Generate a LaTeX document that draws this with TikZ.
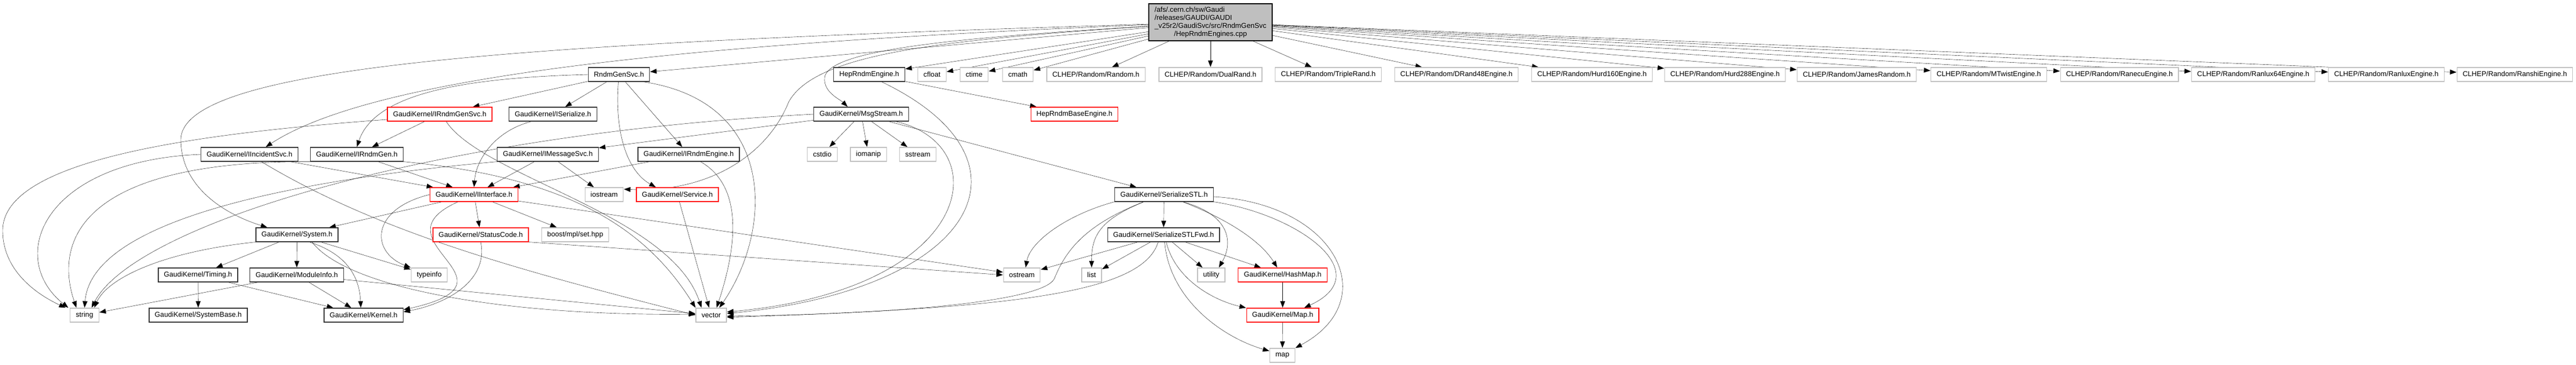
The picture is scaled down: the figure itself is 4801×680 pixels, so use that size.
\documentclass[tikz,border=0pt]{standalone}
\usepackage{fontspec}
\setsansfont{Liberation Sans}
\usetikzlibrary{arrows.meta,backgrounds}
\definecolor{edgeblue}{RGB}{25,25,112}
\begin{document}
\begin{tikzpicture}[->,>={Triangle[length=12pt,width=9pt]},shorten >=0.5pt,x=1pt,y=-1pt,
        hdr node/.style={rectangle,draw=black!80,line width=1.2pt,fill=white,inner xsep=10.5pt,inner ysep=0pt,
          minimum height=26pt,font=\sffamily\fontsize{13.2}{15}\selectfont},
        red node/.style={hdr node,draw=red},
        sys node/.style={hdr node,draw=black!25},
        src node/.style={hdr node,draw=black,fill=black!25,minimum width=230pt,minimum height=69pt,inner xsep=0pt}]
  \useasboundingbox (0,0) rectangle (4801,680);

  \node[src node] (hepcpp) at (2256,41.5) {\begin{tabular}{@{}l@{}}/afs/.cern.ch/sw/Gaudi\\/releases/GAUDI/GAUDI\\\_v25r2/GaudiSvc/src/RndmGenSvc\\\multicolumn{1}{@{}c@{}}{/HepRndmEngines.cpp}\end{tabular}};

  \node[hdr node] (rndmgensvc) at (1153.5,139) {RndmGenSvc.h};
  \node[hdr node] (hepengine) at (1620,139) {HepRndmEngine.h};
  \node[sys node] (cfloat) at (1737,139) {cfloat};
  \node[sys node] (ctime) at (1815.5,139) {ctime};
  \node[sys node] (cmath) at (1897,139) {cmath};
  \node[sys node] (random) at (2042.5,139) {CLHEP/Random/Random.h};
  \node[sys node] (dualrand) at (2256,139) {CLHEP/Random/DualRand.h};
  \node[sys node] (triplerand) at (2475.5,139) {CLHEP/Random/TripleRand.h};
  \node[sys node] (drand48) at (2714.5,139) {CLHEP/Random/DRand48Engine.h};
  \node[sys node] (hurd160) at (2967,139) {CLHEP/Random/Hurd160Engine.h};
  \node[sys node] (hurd288) at (3215,139) {CLHEP/Random/Hurd288Engine.h};
  \node[sys node] (james) at (3460.5,139) {CLHEP/Random/JamesRandom.h};
  \node[sys node] (mtwist) at (3706.5,139) {CLHEP/Random/MTwistEngine.h};
  \node[sys node] (ranecu) at (3950,139) {CLHEP/Random/RanecuEngine.h};
  \node[sys node] (ranlux64) at (4199.5,139) {CLHEP/Random/Ranlux64Engine.h};
  \node[sys node] (ranlux) at (4447.5,139) {CLHEP/Random/RanluxEngine.h};
  \node[sys node] (ranshi) at (4687,139) {CLHEP/Random/RanshiEngine.h};

  \node[red node] (irndmgensvc) at (819.5,213) {GaudiKernel/IRndmGenSvc.h};
  \node[hdr node] (iserialize) at (1030.5,213) {GaudiKernel/ISerialize.h};
  \node[hdr node] (msgstream) at (1605,213) {GaudiKernel/MsgStream.h};
  \node[red node] (hepbase) at (2002.5,213) {HepRndmBaseEngine.h};

  \node[hdr node] (iincident) at (465,288) {GaudiKernel/IIncidentSvc.h};
  \node[hdr node] (irndmgen) at (665,288) {GaudiKernel/IRndmGen.h};
  \node[hdr node] (imessagesvc) at (1021,288) {GaudiKernel/IMessageSvc.h};
  \node[hdr node] (irndmengine) at (1283.5,288) {GaudiKernel/IRndmEngine.h};
  \node[sys node] (cstdio) at (1532.5,288) {cstdio};
  \node[sys node] (iomanip) at (1618.5,288) {iomanip};
  \node[sys node] (sstream) at (1710.5,288) {sstream};

  \node[red node] (iinterface) at (883.5,363) {GaudiKernel/IInterface.h};
  \node[sys node] (iostream) at (1126,363) {iostream};
  \node[red node] (service) at (1262.5,363) {GaudiKernel/Service.h};
  \node[hdr node] (serializestl) at (2169.5,363) {GaudiKernel/SerializeSTL.h};

  \node[hdr node] (system) at (553.5,438) {GaudiKernel/System.h};
  \node[red node] (statuscode) at (896,438) {GaudiKernel/StatusCode.h};
  \node[sys node] (boostset) at (1072,438) {boost/mpl/set.hpp};
  \node[hdr node] (serializestlfwd) at (2168.5,438) {GaudiKernel/SerializeSTLFwd.h};

  \node[hdr node] (timing) at (369,513) {GaudiKernel/Timing.h};
  \node[hdr node] (moduleinfo) at (553,513) {GaudiKernel/ModuleInfo.h};
  \node[sys node] (typeinfo) at (800,513) {typeinfo};
  \node[sys node] (ostream) at (1904.5,513) {ostream};
  \node[sys node] (list) at (2034.5,513) {list};
  \node[sys node] (utility) at (2257.5,513) {utility};
  \node[red node] (hashmap) at (2390.5,513) {GaudiKernel/HashMap.h};

  \node[sys node] (string) at (157.5,588) {string};
  \node[hdr node] (systembase) at (369.5,588) {GaudiKernel/SystemBase.h};
  \node[hdr node] (kernel) at (677.5,588) {GaudiKernel/Kernel.h};
  \node[sys node] (vector) at (1325.5,588) {vector};
  \node[red node] (maph) at (2390.5,588) {GaudiKernel/Map.h};

  \node[sys node] (map) at (2390,663) {map};

  \begin{scope}[on background layer,color=edgeblue,line width=1.2pt]
    \path (hepcpp) edge (rndmgensvc) edge (hepengine) edge (cfloat) edge (ctime) edge (cmath)
                   edge (random) edge (dualrand) edge (triplerand) edge (drand48) edge (hurd160)
                   edge (hurd288) edge (james) edge (mtwist) edge (ranecu) edge (ranlux64)
                   edge (ranlux) edge (ranshi)
          (rndmgensvc) edge (irndmgensvc) edge (iserialize) edge (irndmengine)
          (hepengine) edge (hepbase)
          (msgstream) edge (imessagesvc) edge (serializestl) edge (cstdio) edge (iomanip) edge (sstream)
          (irndmgensvc) edge (irndmgen)
          (iincident) edge (iinterface)
          (irndmgen) edge (iinterface)
          (imessagesvc) edge (iinterface) edge (iostream)
          (irndmengine) edge (iinterface)
          (service) edge (vector)
          (iinterface) edge (system) edge (statuscode) edge (boostset) edge (ostream)
          (statuscode.south east) edge (ostream.west)
          (system) edge (timing) edge (moduleinfo) edge (typeinfo)
          (timing) edge (systembase) edge (kernel)
          (moduleinfo) edge (string) edge (kernel) edge (vector)
          (serializestl) edge (serializestlfwd)
          (serializestlfwd) edge (ostream) edge (list) edge (utility) edge (hashmap)
          (hashmap) edge (maph)
          (maph) edge (map);

    \draw (hepcpp) .. controls (1800,70) and (1560,90) .. (1538,140) .. controls (1530,170) and (1565,185) .. ([xshift=-25pt]msgstream.north);
    \draw (hepcpp) .. controls (1750,75) and (1520,100) .. (1470,190) .. controls (1430,290) and (1320,360) .. ([yshift=10pt]iostream.east);
    \draw (hepcpp) .. controls (1300,80) and (700,140) .. ([xshift=30pt]iincident.north);
    \draw (hepcpp) .. controls (1000,80) and (340,120) .. (337,260) .. controls (337,350) and (420,400) .. ([xshift=-55pt]system.north);
    \draw (rndmgensvc.west) .. controls (880,145) and (700,170) .. (irndmgen.north);
    \draw (rndmgensvc) .. controls (1145,250) and (1170,320) .. ([xshift=-40pt]service.north);
    \draw ([xshift=45pt]rndmgensvc.south) .. controls (1450,190) and (1440,430) .. ([xshift=15pt]vector.north);
    \draw ([xshift=23pt]hepengine.south) .. controls (1950,300) and (1820,540) .. ([yshift=3pt]vector.east);
    \draw (msgstream.west) .. controls (800,250) and (250,420) .. ([xshift=13pt]string.north);
    \draw ([xshift=64pt]msgstream.south) .. controls (1860,270) and (1820,540) .. ([yshift=6pt]vector.east);
    \draw ([yshift=-10pt]irndmgensvc.west) .. controls (350,250) and (5,300) .. (5,430) .. controls (5,500) and (60,545) .. ([xshift=-35pt]string.north);
    \draw ([xshift=12pt]irndmgensvc.south) .. controls (900,330) and (1250,400) .. ([xshift=-18pt]vector.north);
    \draw ([xshift=-40pt]iserialize.south) .. controls (920,245) and (887,300) .. (iinterface.north);
    \draw (iincident.west) .. controls (80,300) and (10,480) .. ([xshift=-30pt]string.north);
    \draw ([xshift=22pt]iincident.south) .. controls (700,430) and (950,500) .. (vector.west);
    \draw (irndmgen.south west) .. controls (150,300) and (100,450) .. ([xshift=-15pt]string.north);
    \draw (irndmgen.south east) .. controls (1050,330) and (1200,420) .. (vector.north west);
    \draw (imessagesvc.south west) .. controls (500,340) and (170,420) .. (string.north);
    \draw ([xshift=22pt]irndmengine.south) .. controls (1390,350) and (1370,470) .. ([xshift=10pt]vector.north);
    \draw (iinterface.west) .. controls (690,390) and (690,470) .. (typeinfo.north west);
    \draw ([xshift=-30pt]iinterface.south) .. controls (690,450) and (990,525) .. ([yshift=10pt]kernel.east);
    \draw (statuscode.south) .. controls (910,520) and (840,565) .. ([yshift=6pt]kernel.east);
    \draw (system.south west) .. controls (300,470) and (200,520) .. ([xshift=18pt]string.north);
    \draw ([xshift=23pt]system.south) .. controls (650,475) and (670,520) .. ([xshift=-5pt]kernel.north);
    \draw ([xshift=28pt]system.south) .. controls (650,540) and (950,590) .. ([yshift=2pt]vector.west);
    \draw (serializestl.south west) .. controls (1990,400) and (1920,450) .. ([xshift=7pt]ostream.north);
    \draw ([xshift=-38pt]serializestl.south) .. controls (2050,410) and (2034,440) .. (list.north);
    \draw ([xshift=-38pt]serializestl.south) .. controls (2020,420) and (1985,470) .. (1965,520) .. controls (1945,560) and (1700,585) .. ([yshift=-2pt]vector.east);
    \draw ([xshift=35pt]serializestl.south) .. controls (2290,400) and (2300,450) .. ([xshift=14pt]utility.north);
    \draw ([xshift=35pt]serializestl.south) .. controls (2290,410) and (2350,450) .. ([xshift=-10pt]hashmap.north);
    \draw (serializestl.south east) .. controls (2420,400) and (2570,510) .. ([xshift=40pt]maph.north);
    \draw ([yshift=-4pt]serializestl.east) .. controls (2490,380) and (2580,560) .. (map.north east);
    \draw ([xshift=-10pt]serializestlfwd.south) .. controls (2130,545) and (1900,575) .. ([yshift=-4pt]vector.east);
    \draw ([xshift=5pt]serializestlfwd.south) .. controls (2190,520) and (2260,560) .. (maph.north west);
    \draw ([xshift=2pt]serializestlfwd.south) .. controls (2180,560) and (2280,630) .. ([yshift=8pt]map.west);
  \end{scope}
\end{tikzpicture}
\end{document}
